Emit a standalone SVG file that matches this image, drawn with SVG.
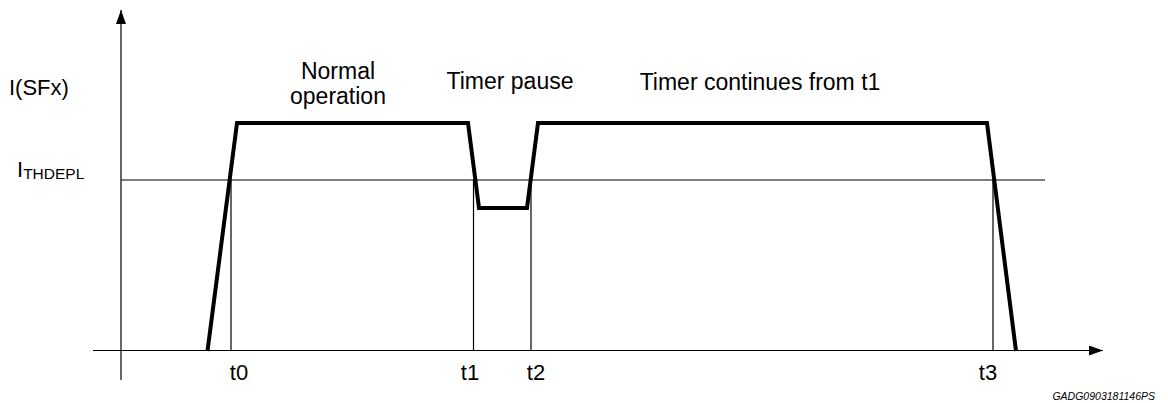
<svg xmlns="http://www.w3.org/2000/svg" width="1168" height="403" viewBox="0 0 1168 403">
<style>
.t{font-family:"Liberation Sans",Arial,sans-serif;font-size:23px;fill:#000}
.tl{font-family:"Liberation Sans",Arial,sans-serif;font-size:22px;fill:#000}
.thin{stroke:#000;stroke-width:1.2;fill:none}
.wave{stroke:#000;stroke-width:4;fill:none;stroke-linejoin:miter}
</style>
<defs>
<marker id="ah" markerWidth="14" markerHeight="10" refX="14" refY="5" orient="auto" markerUnits="userSpaceOnUse">
<path d="M0,0 L14,5 L0,10 Z" fill="#000"/>
</marker>
</defs>
<rect width="1168" height="403" fill="#fff"/>
<g id="connectors">
<line class="thin" x1="121" y1="380" x2="121" y2="10" marker-end="url(#ah)"/>
<line class="thin" x1="93" y1="350.5" x2="1103" y2="350.5" marker-end="url(#ah)"/>
<line class="thin" x1="121" y1="180" x2="1045" y2="180"/>
<line class="thin" x1="231" y1="180" x2="231" y2="350"/>
<line class="thin" x1="473.5" y1="180" x2="473.5" y2="350"/>
<line class="thin" x1="531" y1="180" x2="531" y2="350"/>
<line class="thin" x1="993" y1="180" x2="993" y2="350"/>
</g>
<g id="waveform">
<polyline class="wave" points="207.5,351 237,123 468,123 479,208 527,208 538,123 987,123 1016,351"/>
</g>
<g id="labels">
<text class="tl" x="9" y="95">I(SFx)</text>
<text class="tl" x="17" y="177">I<tspan font-size="15.5" dy="2">THDEPL</tspan></text>
<text class="t" x="338" y="79" text-anchor="middle">Normal</text>
<text class="t" x="338" y="104" text-anchor="middle">operation</text>
<text class="t" x="510" y="89" text-anchor="middle">Timer pause</text>
<text class="t" x="760" y="90" text-anchor="middle">Timer continues from t1</text>
<text class="tl" x="239" y="380" text-anchor="middle">t0</text>
<text class="tl" x="470" y="380" text-anchor="middle">t1</text>
<text class="tl" x="536" y="380" text-anchor="middle">t2</text>
<text class="tl" x="988" y="380" text-anchor="middle">t3</text>
<text x="1155" y="400" text-anchor="end" font-family="Liberation Sans,Arial,sans-serif" font-size="10.5" font-style="italic">GADG0903181146PS</text>
</g>
</svg>
